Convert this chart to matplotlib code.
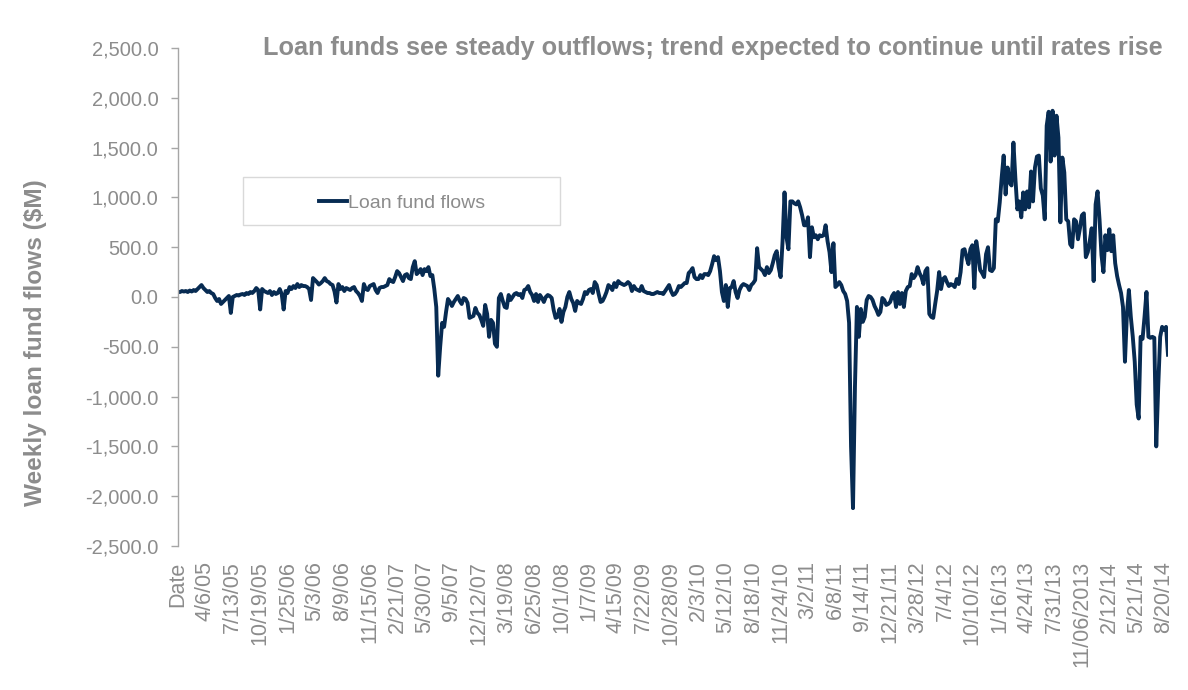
import matplotlib.pyplot as plt
import numpy as np
from matplotlib.patches import Rectangle
from matplotlib.ticker import FuncFormatter

plt.rcParams["font.family"] = ["Liberation Sans", "DejaVu Sans"]

GREY = "#8c8c8c"
NAVY = "#072b52"

# weekly loan fund flows ($M); first point sits on the "Date" category
flows = [
    50, 50, 60, 55, 60, 50, 65, 55, 70, 60,
    80, 100, 120, 90, 70, 50, 60, 40, 30, -10,
    -40, -20, -70, -50, -30, -10, 10, -160, 0, 10,
    20, 15, 25, 30, 20, 40, 30, 50, 40, 60,
    90, 70, -125, 80, 60, 50, 40, 60, 20, 50,
    30, 40, 80, 30, -125, 60, 40, 100, 80, 110,
    90, 130, 100, 120, 110, 110, 100, 80, -30, 190,
    170, 150, 125, 140, 160, 190, 160, 150, 130, 120,
    55, -55, 130, 80, 100, 60, 90, 80, 70, 90,
    100, 60, 40, 10, -40, 130, 80, 70, 110, 120,
    130, 70, 40, 90, 100, 100, 110, 120, 180, 160,
    150, 200, 260, 240, 200, 160, 220, 230, 190, 180,
    300, 360, 230, 250, 280, 220, 280, 260, 300, 210,
    220, 80, -100, -790, -500, -260, -300, -150, -20, -50,
    -90, -50, -20, 10, -40, -70, -10, -20, -60, -210,
    -200, -190, -110, -160, -180, -230, -290, -80, -170, -400,
    -230, -260, -470, -500, -10, 30, -40, -100, -110, 20,
    -30, 0, 30, 40, 20, 30, -10, 70, 80, 110,
    50, 20, -40, 30, -50, 20, -10, -50, 0, 20,
    10, -10, -130, -210, -200, -120, -250, -150, -100, 0,
    50, -20, -60, -140, -40, -60, -70, -20, 50, 30,
    70, 80, 40, 150, 120, 30, -50, -40, 0, 50,
    120, 100, 70, 140, 100, 160, 140, 130, 120, 130,
    150, 130, 60, 110, 80, 70, 60, 110, 60, 50,
    40, 40, 30, 30, 40, 50, 40, 40, 30, 60,
    90, 120, 60, 20, 30, 60, 110, 100, 120, 140,
    140, 240, 260, 290, 200, 180, 180, 220, 190, 230,
    230, 220, 260, 330, 410, 370, 400, 260, 50, -40,
    120, -100, 90, 100, 160, 50, -10, 70, 110, 130,
    120, 110, 70, 120, 140, 170, 490, 300, 280, 260,
    220, 300, 240, 270, 340, 420, 460, 300, 200, 560,
    1050, 600, 480, 960, 960, 940, 930, 960, 900, 820,
    720, 720, 800, 400, 700, 600, 620, 580, 620, 610,
    620, 720, 560, 450, 250, 540, 100, 120, 150, 120,
    60, 30, -40, -260, -1500, -2120, -900, -100, -400, -120,
    -250, -200, -30, 10, 0, -30, -90, -130, -180, -150,
    -10, -30, -80, -70, -50, 10, 40, -100, 50, -70,
    40, -100, 60, 100, 110, 230, 190, 220, 300, 240,
    200, 130, 260, 290, -170, -200, -210, -70, 60, 250,
    80, 180, 200, 150, 110, 130, 120, 100, 180, 130,
    250, 470, 480, 400, 330, 480, 520, 90, 560, 430,
    270, 240, 200, 430, 500, 270, 260, 290, 780, 760,
    950, 1200, 1420, 1030, 1300, 1150, 1120, 1550, 1190, 880,
    960, 800, 1050, 880, 1060, 900, 1260, 960, 1300, 1410,
    1420, 1090, 1020, 780, 1720, 1860, 1360, 1870, 1420, 1820,
    1600, 750, 1400, 1250, 780, 760, 530, 500, 780, 760,
    580, 690, 820, 840, 400, 450, 560, 690, 160, 930,
    1060, 780, 420, 250, 620, 470, 680, 460, 620, 340,
    210, 120, 40, -100, -650, -170, 70, -200, -400, -650,
    -1080, -1220, -400, -420, -200, 50, -400, -410, -400, -410,
    -1500, -900, -400, -300, -330, -300, -580,
]

# category labels shown on the axis (every 14th week)
tick_labels = [
    "Date", "4/6/05", "7/13/05", "10/19/05", "1/25/06", "5/3/06", "8/9/06",
    "11/15/06", "2/21/07", "5/30/07", "9/5/07", "12/12/07", "3/19/08",
    "6/25/08", "10/1/08", "1/7/09", "4/15/09", "7/22/09", "10/28/09",
    "2/3/10", "5/12/10", "8/18/10", "11/24/10", "3/2/11", "6/8/11",
    "9/14/11", "12/21/11", "3/28/12", "7/4/12", "10/10/12", "1/16/13",
    "4/24/13", "7/31/13", "11/06/2013", "2/12/14", "5/21/14", "8/20/14",
]
label_step = 14

title = "Loan funds see steady outflows; trend expected to continue until rates rise"
y_title = "Weekly loan fund flows ($M)"
series_name = "Loan fund flows"

W, H = 1188, 690
fig = plt.figure(figsize=(W / 100, H / 100), dpi=100)
ax = fig.add_axes([178 / W, 1 - 546 / H, (1168 - 178) / W, (546 - 48) / H])

x = np.arange(len(flows))
ax.plot(x, flows, color=NAVY, lw=2.8, solid_joinstyle="round", label=series_name)

ax.set_xlim(0, len(flows) - 1)
ax.set_ylim(-2500, 2500)
ax.set_yticks(np.arange(-2500, 2501, 500))
ax.yaxis.set_major_formatter(FuncFormatter(lambda v, p: f"{v:,.1f}"))

ax.set_xticks(np.arange(len(tick_labels)) * label_step)
ax.set_xticklabels(tick_labels, rotation=90)

for side in ["top", "right", "bottom"]:
    ax.spines[side].set_visible(False)
ax.spines["left"].set_color("#a6a6a6")
ax.spines["left"].set_linewidth(1)

ax.tick_params(axis="y", direction="out", length=5, width=1, color="#a6a6a6",
               labelcolor=GREY, labelsize=14.5, pad=9)
ax.tick_params(axis="x", length=0, labelcolor=GREY, labelsize=15.5, pad=11)

fig.text(1163 / W, 1 - 55 / H, title, ha="right", va="baseline",
         fontsize=18.2, fontweight="bold", color=GREY)
fig.text(36 / W, 1 - 343 / H, y_title, ha="center", va="center", rotation=90,
         fontsize=17.6, fontweight="bold", color=GREY)

# legend box
fig.patches.append(Rectangle((243 / W, 1 - 225 / H), (560 - 243) / W, 48 / H,
                             transform=fig.transFigure, fill=False,
                             edgecolor="#d9d9d9", lw=1))
ax.legend(loc="center", bbox_to_anchor=(402 / W, 1 - 203 / H),
          bbox_transform=fig.transFigure, frameon=False, fontsize=14,
          labelcolor=GREY, handlelength=1.45, handletextpad=0.05)

fig.savefig("out.png", dpi=100)
